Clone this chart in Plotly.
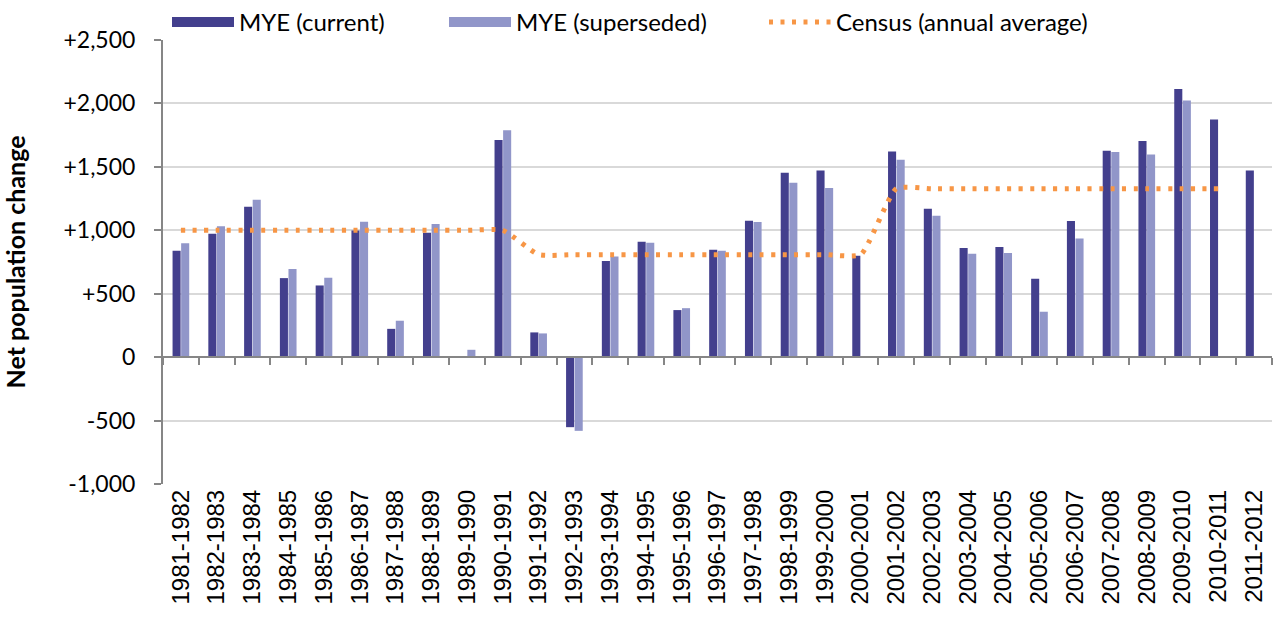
import plotly.graph_objects as go

categories = ["1981-1982","1982-1983","1983-1984","1984-1985","1985-1986","1986-1987",
              "1987-1988","1988-1989","1989-1990","1990-1991","1991-1992","1992-1993",
              "1993-1994","1994-1995","1995-1996","1996-1997","1997-1998","1998-1999",
              "1999-2000","2000-2001","2001-2002","2002-2003","2003-2004","2004-2005",
              "2005-2006","2006-2007","2007-2008","2008-2009","2009-2010","2010-2011",
              "2011-2012"]

mye_current = [839, 973, 1186, 623, 565, 999, 223, 981, None, 1711, 195, -552,
               757, 910, 371, 847, 1075, 1454, 1472, 799, 1622, 1170, 860, 868,
               618, 1073, 1627, 1704, 2114, 1874, 1472]

mye_superseded = [897, 1031, 1241, 694, 626, 1067, 287, 1049, 58, 1788, 187, -581,
                  794, 902, 386, 839, 1065, 1375, 1333, None, 1556, 1115, 815, 820,
                  358, 936, 1617, 1598, 2024, None, None]

census_avg = [1000]*10 + [808]*10 + [1328]*10 + [None]

ytick_vals = [-1000, -500, 0, 500, 1000, 1500, 2000, 2500]
ytick_text = ["-1,000", "-500", "0", "+500", "+1,000", "+1,500", "+2,000", "+2,500"]

xidx = list(range(len(categories)))

FONT = "Lato, 'Open Sans', sans-serif"
C_CUR = "#433F8D"
C_SUP = "#9196C9"
C_CEN = "#F79646"
DOT = "4px,7.5px"

fig = go.Figure()
fig.add_trace(go.Bar(x=xidx, y=mye_current, name="MYE (current)", showlegend=False,
                     marker=dict(color=C_CUR, line=dict(width=0))))
fig.add_trace(go.Bar(x=xidx, y=mye_superseded, name="MYE (superseded)", showlegend=False,
                     marker=dict(color=C_SUP, line=dict(width=0))))
fig.add_trace(go.Scatter(x=xidx, y=census_avg, name="Census (annual average)",
                         mode="lines", showlegend=False,
                         line=dict(color=C_CEN, width=5, dash=DOT,
                                   shape="spline", smoothing=0.5)))
# legend entries (wide swatches like the original)
fig.add_trace(go.Scatter(x=[None], y=[None], name="MYE (current)", mode="lines",
                         line=dict(color=C_CUR, width=13), legend="legend"))
fig.add_trace(go.Scatter(x=[None], y=[None], name="MYE (superseded)", mode="lines",
                         line=dict(color=C_SUP, width=13), legend="legend"))
fig.add_trace(go.Scatter(x=[None], y=[None], name="Census (annual average)", mode="lines",
                         line=dict(color=C_CEN, width=5, dash=DOT), legend="legend2"))
# helper axis for the zero line with category ticks
fig.add_trace(go.Scatter(x=[-0.5, len(categories) - 0.5], y=[0, 0], xaxis="x2",
                         mode="lines", line=dict(width=0), showlegend=False,
                         hoverinfo="skip"))

W, H = 1280, 619
leg_common = dict(orientation="h", xanchor="left", xref="container", yref="container",
                  y=1.0, yanchor="top", font=dict(size=24), itemwidth=62,
                  tracegroupgap=0, bgcolor="rgba(0,0,0,0)")

fig.update_layout(
    width=W, height=H,
    margin=dict(l=163, r=8, t=40, b=135, autoexpand=False),
    plot_bgcolor="white", paper_bgcolor="white",
    font=dict(family=FONT, size=20, color="#000000"),
    barmode="group", bargap=0.52, bargroupgap=0.06,
    legend=dict(x=167 / W, entrywidth=200, entrywidthmode="pixels", **leg_common),
    legend2=dict(x=764 / W, **leg_common),
    xaxis=dict(range=[-0.5, len(categories) - 0.5], tickmode="array",
               tickvals=xidx, ticktext=categories, tickangle=-90,
               showline=False, showgrid=False, zeroline=False, ticks="",
               tickfont=dict(size=24, family="'Liberation Sans', Arial, sans-serif")),
    xaxis2=dict(overlaying="x", anchor="free", position=1000/3500,
                range=[-0.5, len(categories) - 0.5], tickmode="array",
                tickvals=[i - 0.5 for i in range(len(categories) + 1)],
                showticklabels=False, ticks="outside", ticklen=7, tickwidth=1.5,
                tickcolor="#868686", showline=True, linecolor="#868686",
                linewidth=2, showgrid=False, zeroline=False),
    yaxis=dict(range=[-1000, 2500], tickmode="array", tickvals=ytick_vals,
               ticktext=ytick_text, showgrid=True, gridcolor="#D9D9D9",
               gridwidth=2, zeroline=False, showline=True, linecolor="#868686",
               linewidth=2, ticks="outside", ticklen=7, tickcolor="#868686",
               tickwidth=1.5, tickfont=dict(size=23), ticklabelstandoff=14,
               title=dict(text="<b>Net population change</b>", font=dict(size=25),
                          standoff=42)),
)

fig.write_html("out.html", config={"displayModeBar": False},
               post_script="document.body.style.margin='0';document.body.style.overflow='hidden';")
